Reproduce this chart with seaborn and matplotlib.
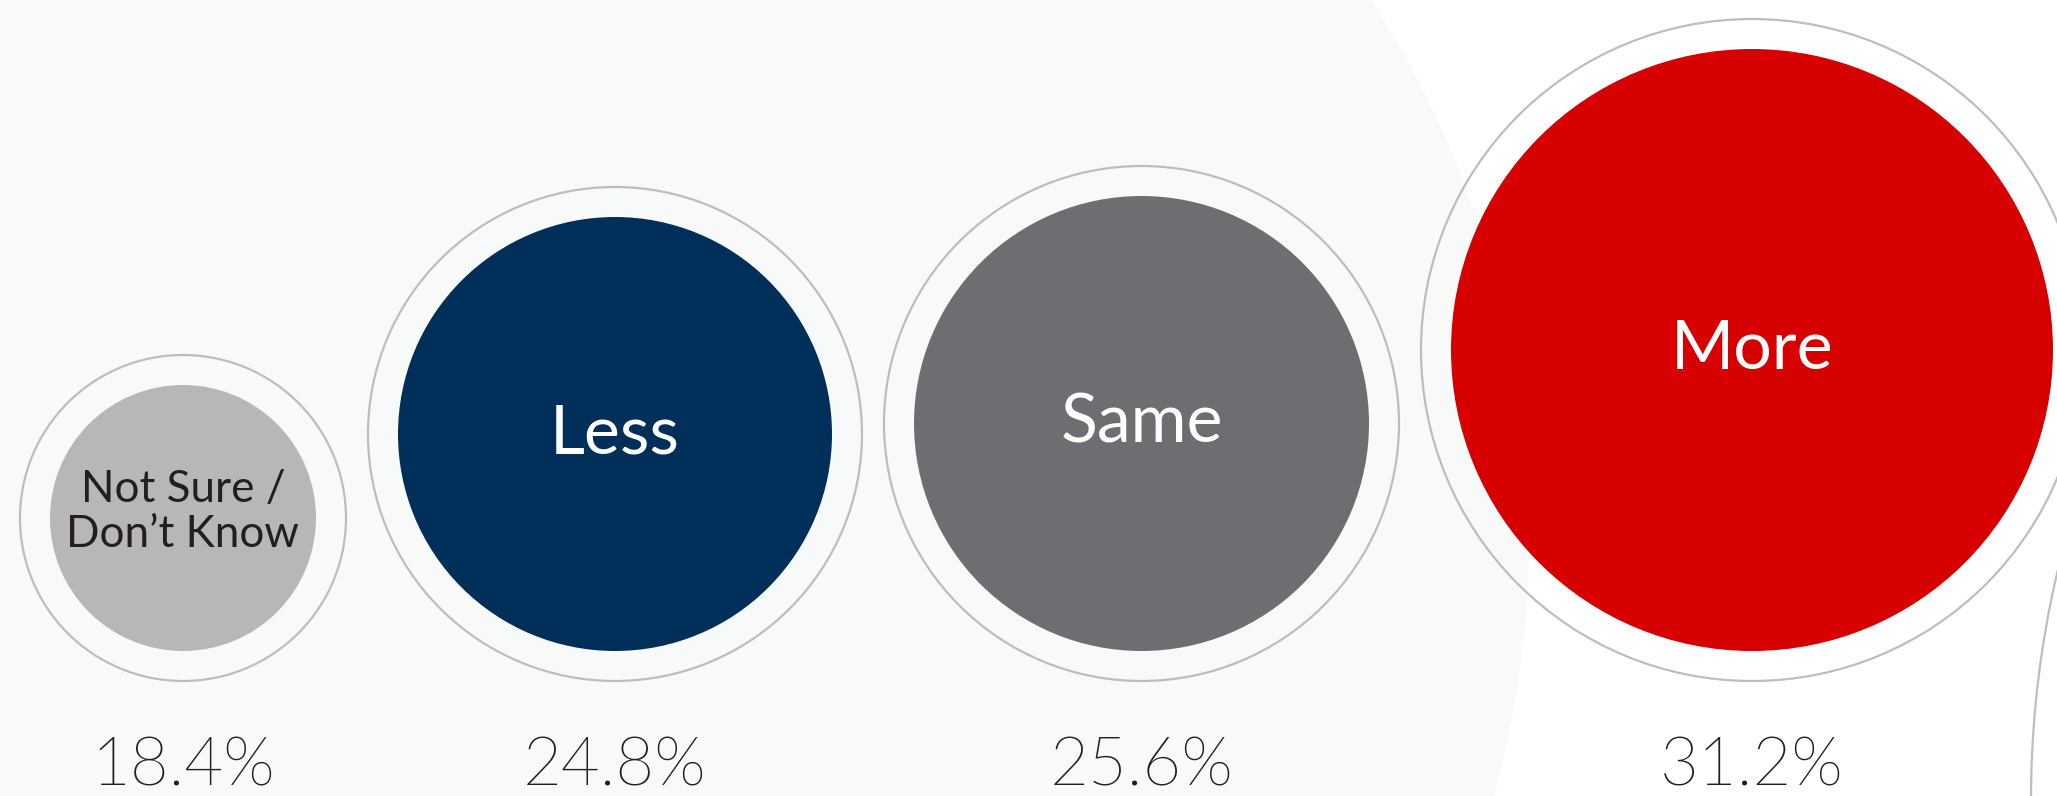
import numpy as np
import pandas as pd
import matplotlib
matplotlib.use("Agg")
import matplotlib.pyplot as plt
from matplotlib.patches import Circle
from matplotlib import font_manager as fm
import seaborn as sns

# Survey answers, smallest share first
categories = ["Not Sure /\nDon\u2019t Know", "Less", "Same", "More"]
shares = [18.4, 24.8, 25.6, 31.2]
fill_colors = ["#b7b7b5", "#002f5a", "#6d6e71", "#d60000"]
label_colors = ["#231f20", "#ffffff", "#ffffff", "#ffffff"]

# Canvas in pixels (dpi 72 so one point equals one pixel)
W, H = 2057, 796
DPI = 72

# Bubble radius scale: linear from the share range to a pixel range
radius_range = (133, 301)
ring_gap = 30          # space between the bubble and its outline ring
bubble_gap = 22        # space between neighbouring rings
left_margin = 20
base_line = 651        # bubbles sit on a common bottom line
pct_baseline = 785

sns.set_style("white")
plt.rcParams["font.family"] = ["Lato", "DejaVu Sans"]


def lato_light(size):
    """Lato Light for the percentage figures, regular Lato if it is missing."""
    for f in fm.fontManager.ttflist:
        name = f.fname.lower()
        if f.name == "Lato" and "light" in name and "italic" not in name:
            return fm.FontProperties(fname=f.fname, size=size)
    return fm.FontProperties(family="Lato", size=size)


pct_font = lato_light(67)

radius = np.interp(shares, [min(shares), max(shares)], radius_range)
ring_radius = radius + ring_gap

# Pack the bubbles left to right
centers_x = []
edge = left_margin
for rr in ring_radius:
    centers_x.append(edge + rr)
    edge += 2 * rr + bubble_gap

df = pd.DataFrame({
    "category": categories,
    "share": shares,
    "cx": centers_x,
    "cy": base_line - radius,
    "inner_area": (2 * radius) ** 2,
    "ring_area": (2 * ring_radius) ** 2,
})

fig = plt.figure(figsize=(W / DPI, H / DPI), dpi=DPI, facecolor="white")
ax = fig.add_axes([0, 0, 1, 1])
ax.set_xlim(0, W)
ax.set_ylim(H, 0)
ax.axis("off")

# Soft backdrop disc on the left and the outline of the next panel on the right
ax.add_patch(Circle((543, 535), 986, facecolor="#f8f9f9", edgecolor="none", zorder=0))
ax.add_patch(Circle((3031, 800), 1000, facecolor="none", edgecolor="#bcbdc1",
                    linewidth=2.2, zorder=1))

# Outline rings
sns.scatterplot(data=df, x="cx", y="cy", s=df["ring_area"], facecolor="none",
                edgecolor="#bdbdbd", linewidth=2.2, legend=False, ax=ax, zorder=2)

# Filled bubbles
sns.scatterplot(data=df, x="cx", y="cy", hue="category",
                palette=dict(zip(categories, fill_colors)),
                s=df["inner_area"], linewidth=0, legend=False, ax=ax, zorder=3)

for (_, row), tcol in zip(df.iterrows(), label_colors):
    two_lines = "\n" in row["category"]
    ax.text(row["cx"], row["cy"] - (6 if two_lines else 0), row["category"],
            ha="center", va="center", multialignment="center",
            fontsize=44 if two_lines else 68, color=tcol,
            linespacing=1.15, zorder=4)
    ax.text(row["cx"], pct_baseline, f"{row['share']:.1f}%", ha="center",
            va="baseline", fontproperties=pct_font, color="#231f20", zorder=4)

ax.set_xlim(0, W)
ax.set_ylim(H, 0)
fig.savefig("out.png", dpi=DPI, facecolor="white")
